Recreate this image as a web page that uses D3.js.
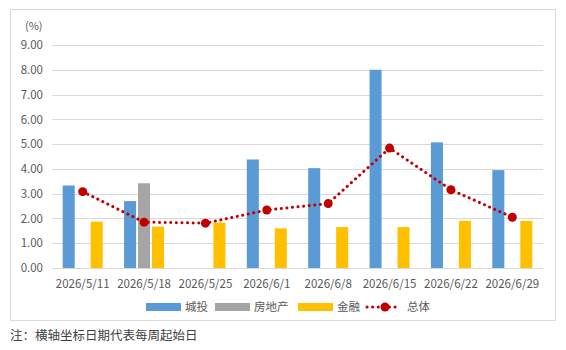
<!DOCTYPE html>
<meta charset="utf-8">
<style>
body { margin: 0; background: #fff; }
text { font-family: "Noto Sans CJK SC", "Noto Sans", sans-serif; fill: #595959; }
.axis text { font-size: 11.5px; }
.grid line { stroke: #d9d9d9; stroke-width: 1; }
</style>
<svg width="566" height="350"></svg>
<script src="https://d3js.org/d3.v7.min.js"></script>
<script>

var dates = ["2026/5/11", "2026/5/18", "2026/5/25", "2026/6/1", "2026/6/8", "2026/6/15", "2026/6/22", "2026/6/29"];
var chengtou = [3.33, 2.70, null, 4.38, 4.03, 8.00, 5.07, 3.95];
var fangdichan = [null, 3.42, null, null, null, null, null, null];
var jinrong = [1.87, 1.67, 1.83, 1.60, 1.65, 1.65, 1.90, 1.90];
var zongti = [3.08, 1.85, 1.81, 2.34, 2.60, 4.84, 3.16, 2.05];
var yTicks = [0, 1, 2, 3, 4, 5, 6, 7, 8, 9];

var series = [
  { name: "城投", values: chengtou, color: "#5b9bd5" },
  { name: "房地产", values: fangdichan, color: "#a5a5a5" },
  { name: "金融", values: jinrong, color: "#ffc000" }
];

var svg = d3.select("svg");
var plotLeft = 52, plotRight = 543, plotTop = 45, plotBottom = 268;

// outer frame
svg.append("rect")
    .attr("x", 10.5).attr("y", 9.5)
    .attr("width", 545).attr("height", 311)
    .attr("fill", "none").attr("stroke", "#d9d9d9");

var x = d3.scaleBand().domain(dates).range([plotLeft, plotRight]);
var y = d3.scaleLinear().domain([0, 9]).range([plotBottom, plotTop]);
var sub = d3.scaleBand().domain(series.map(function(s) { return s.name; }))
    .range([-20, 20]).paddingInner(0.14);

// gridlines
svg.append("g").attr("class", "grid")
  .selectAll("line").data(yTicks).enter().append("line")
    .attr("x1", plotLeft).attr("x2", plotRight)
    .attr("y1", function(d) { return Math.round(y(d)) + 0.5; })
    .attr("y2", function(d) { return Math.round(y(d)) + 0.5; });

// y axis labels
var yAxis = svg.append("g").attr("class", "axis")
    .attr("transform", "translate(" + (plotLeft - 3) + ",0)")
    .call(d3.axisLeft(y).tickValues(yTicks).tickFormat(d3.format(".2f")).tickSize(0).tickPadding(6));
yAxis.select(".domain").remove();

svg.append("text").attr("x", 25).attr("y", 30).style("font-size", "11px").text("(%)");

// x axis labels
var xAxis = svg.append("g").attr("class", "axis")
    .attr("transform", "translate(0," + plotBottom + ")")
    .call(d3.axisBottom(x).tickSize(0).tickPadding(12));
xAxis.select(".domain").remove();

// bars
series.forEach(function(s) {
  svg.append("g").selectAll("rect")
    .data(s.values.map(function(v, i) { return { date: dates[i], v: v }; }).filter(function(d) { return d.v != null; }))
    .enter().append("rect")
      .attr("x", function(d) { return x(d.date) + x.bandwidth() / 2 + sub(s.name); })
      .attr("width", sub.bandwidth())
      .attr("y", function(d) { return y(d.v); })
      .attr("height", function(d) { return y(0) - y(d.v); })
      .attr("fill", s.color);
});

// overall line
var pts = zongti.map(function(v, i) { return [x(dates[i]) + x.bandwidth() / 2, y(v)]; });
svg.append("path")
    .attr("d", d3.line()(pts))
    .attr("fill", "none").attr("stroke", "#c00000")
    .attr("stroke-width", 3).attr("stroke-linecap", "round")
    .attr("stroke-dasharray", "0.1,5.5");
svg.append("g").selectAll("circle").data(pts).enter().append("circle")
    .attr("cx", function(d) { return d[0]; }).attr("cy", function(d) { return d[1]; })
    .attr("r", 4.5).attr("fill", "#c00000");

// legend
var ly = 307;
var legendItems = [
  { name: "城投", color: "#5b9bd5", x: 146 },
  { name: "房地产", color: "#a5a5a5", x: 215 },
  { name: "金融", color: "#ffc000", x: 298 }
];
legendItems.forEach(function(d) {
  svg.append("rect").attr("x", d.x).attr("y", ly - 4).attr("width", 35).attr("height", 8).attr("fill", d.color);
  svg.append("text").attr("x", d.x + 39).attr("y", ly + 4).style("font-size", "11.5px").text(d.name);
});
svg.append("line").attr("x1", 367).attr("x2", 400).attr("y1", ly).attr("y2", ly)
    .attr("stroke", "#c00000").attr("stroke-width", 3).attr("stroke-linecap", "round")
    .attr("stroke-dasharray", "0.1,5.5");
svg.append("circle").attr("cx", 385).attr("cy", ly).attr("r", 4.5).attr("fill", "#c00000");
svg.append("text").attr("x", 407).attr("y", ly + 4).style("font-size", "11.5px").text("总体");

// note
svg.append("text").attr("x", 10).attr("y", 340).style("font-size", "12.5px").style("fill", "#404040")
    .text("注：横轴坐标日期代表每周起始日");

</script>
